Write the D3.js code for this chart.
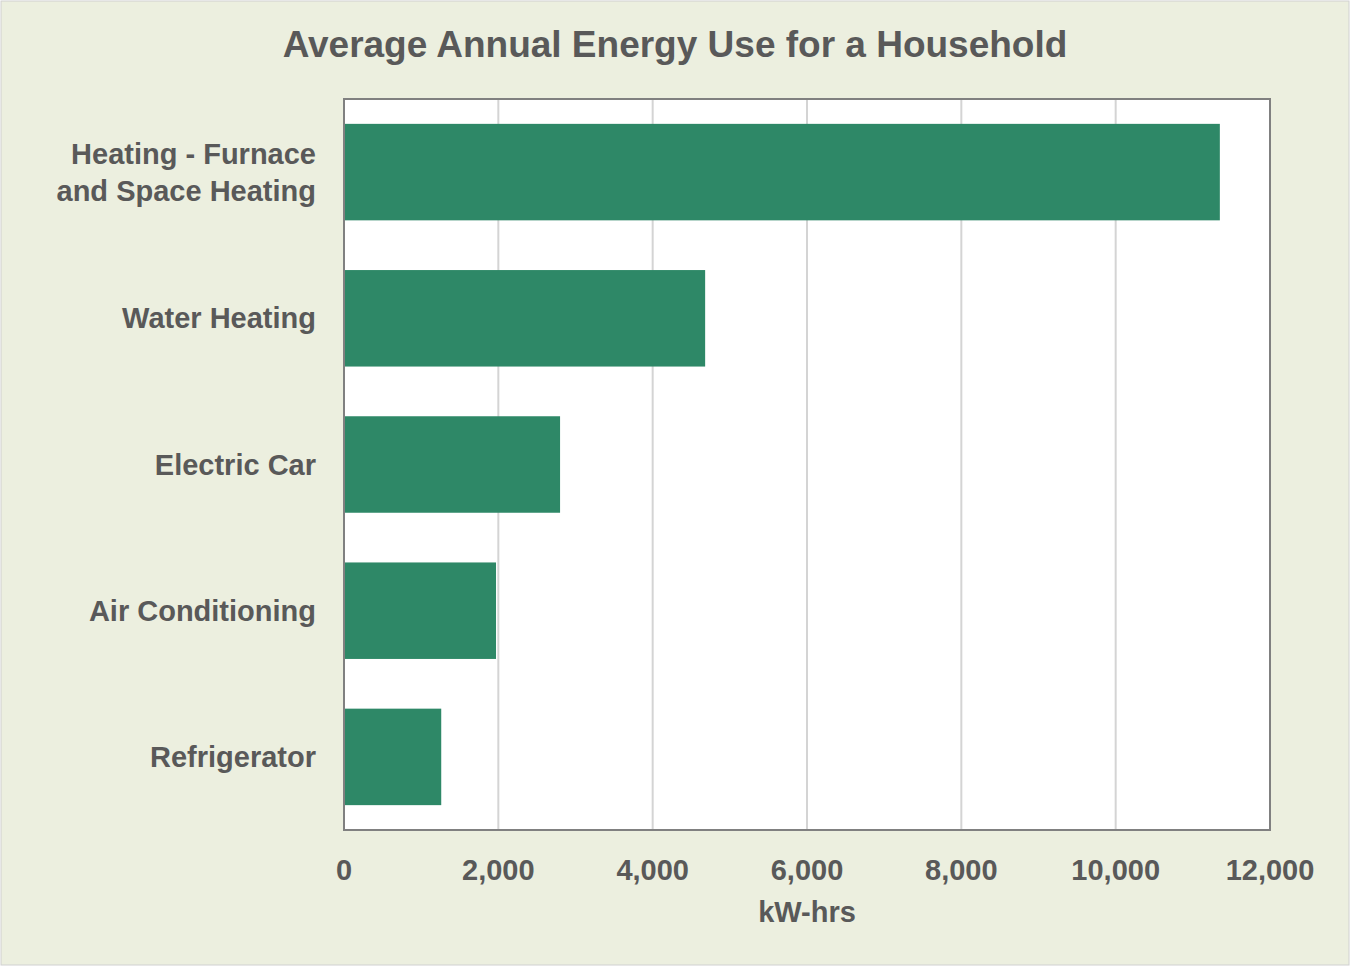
<!DOCTYPE html>
<html><head><meta charset="utf-8">
<script src="https://cdn.jsdelivr.net/npm/d3@7"></script>
<style>body{margin:0;background:#fff}</style></head>
<body><svg id="c" width="1350" height="966"></svg>
<script>
const categories=["Heating - Furnace|and Space Heating","Water Heating","Electric Car","Air Conditioning","Refrigerator"];
const values=[11350,4680,2800,1970,1260];
const ticks=[0,2000,4000,6000,8000,10000,12000];
const svg=d3.select("#c");
svg.append("rect").attr("x",1).attr("y",1).attr("width",1348).attr("height",964).attr("fill","#ecefdf").attr("stroke","#d0d0d0");
const m={l:344,r:1270,t:99,b:830};
const x=d3.scaleLinear().domain([0,12000]).range([m.l,m.r]);
const y=d3.scaleBand().domain(categories).range([m.t,m.b]).paddingInner(0.34).paddingOuter(0.17);
svg.append("rect").attr("x",m.l).attr("y",m.t).attr("width",m.r-m.l).attr("height",m.b-m.t).attr("fill","#fff");
svg.selectAll(".g").data(ticks.slice(1,-1)).enter().append("line").attr("x1",d=>x(d)).attr("x2",d=>x(d)).attr("y1",m.t).attr("y2",m.b).attr("stroke","#d4d4d4").attr("stroke-width",2);
svg.selectAll(".b").data(values).enter().append("rect").attr("x",x(0)).attr("y",(d,i)=>y(categories[i])).attr("width",d=>x(d)-x(0)).attr("height",y.bandwidth()).attr("fill","#2e8867");
svg.append("rect").attr("x",m.l).attr("y",m.t).attr("width",m.r-m.l).attr("height",m.b-m.t).attr("fill","none").attr("stroke","#808080").attr("stroke-width",2);
const f="Liberation Sans, Arial, sans-serif";
svg.selectAll(".t").data(ticks).enter().append("text").attr("x",d=>x(d)).attr("y",880).attr("text-anchor","middle").attr("font-family",f).attr("font-weight","bold").attr("font-size",29).attr("fill","#595959").text(d=>d3.format(",")(d));
svg.append("text").attr("x",807).attr("y",922).attr("text-anchor","middle").attr("font-family",f).attr("font-weight","bold").attr("font-size",29).attr("fill","#595959").text("kW-hrs");
svg.append("text").attr("x",675).attr("y",57).attr("text-anchor","middle").attr("font-family",f).attr("font-weight","bold").attr("font-size",37).attr("fill","#595959").text("Average Annual Energy Use for a Household");
categories.forEach(c=>{
  const lines=c.split("|"); const cy=y(c)+y.bandwidth()/2;
  lines.forEach((s,i)=>svg.append("text").attr("x",316).attr("y",cy+10+(i-(lines.length-1)/2)*37).attr("text-anchor","end").attr("font-family",f).attr("font-weight","bold").attr("font-size",29).attr("fill","#595959").text(s));
});
</script></body></html>
